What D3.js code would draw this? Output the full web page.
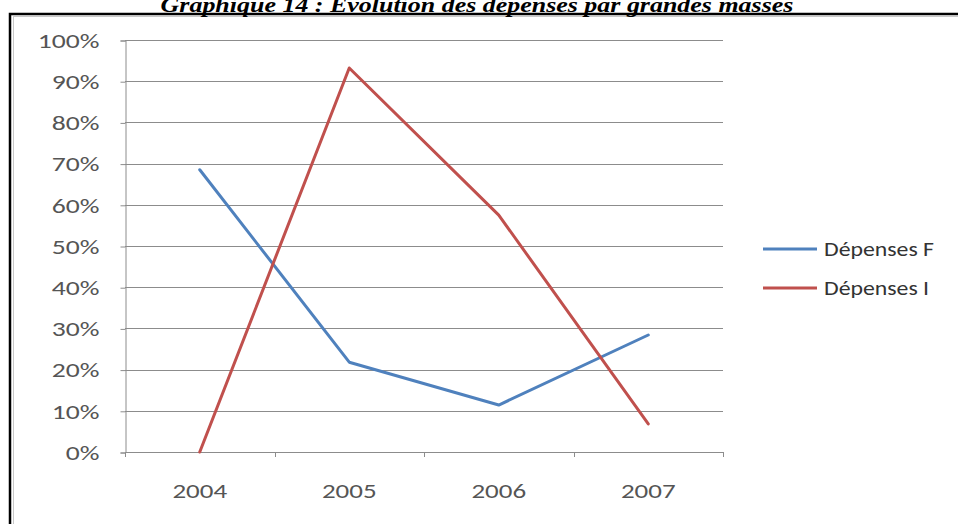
<!DOCTYPE html>
<html>
<head>
<meta charset="utf-8">
<script src="https://cdn.jsdelivr.net/npm/d3@7/dist/d3.min.js"></script>
<style>
  html, body { margin: 0; padding: 0; background: #fff; }
  svg { display: block; }
</style>
</head>
<body>
<svg id="chart" width="958" height="524"></svg>
<script>
// Années et parts des deux grandes masses de dépenses
const years = ["2004", "2005", "2006", "2007"];
const depensesF = [0.685, 0.218, 0.114, 0.284];
const depensesI = [0.0, 0.932, 0.575, 0.068];
const yTicks = [0, 0.1, 0.2, 0.3, 0.4, 0.5, 0.6, 0.7, 0.8, 0.9, 1.0];
const seriesNames = ["Dépenses F", "Dépenses I"];
const seriesColors = ["#4F81BD", "#C0504D"];

const svg = d3.select("#chart");
const W = 958, H = 524;
const fontAxis = "Carlito, 'Open Sans', 'Liberation Sans', sans-serif";

// Élargit un texte autour de son point d'ancrage
function widen(sel, s) {
  sel.each(function () {
    const t = d3.select(this);
    const tx = +t.attr("x") || 0, ty = +t.attr("y") || 0;
    t.attr("x", 0).attr("y", 0)
     .attr("transform", `translate(${tx},${ty}) scale(${s},1)`);
  });
}

// Cadre noir du document
svg.append("path")
  .attr("d", `M10,${H + 5} V14 H${W + 5}`)
  .attr("fill", "none").attr("stroke", "#000").attr("stroke-width", 2.5);

// Bordure de la zone graphique
svg.append("rect")
  .attr("x", 13.5).attr("y", 16.5).attr("width", W + 10).attr("height", H + 10)
  .attr("fill", "#fff").attr("stroke", "#c8c8c8").attr("stroke-width", 1);

// Titre
svg.append("text")
  .attr("x", 477).attr("y", 12)
  .attr("text-anchor", "middle")
  .attr("font-family", "'Liberation Serif', 'Times New Roman', serif")
  .attr("font-weight", "bold").attr("font-style", "italic")
  .attr("font-size", 22)
  .text("Graphique 14 : Evolution des dépenses par grandes masses")
  .call(widen, 1.18);

const plot = { left: 125, right: 723, top: 40, bottom: 452 };

const x = d3.scaleBand().domain(years).range([plot.left, plot.right]);
const y = d3.scaleLinear().domain([0, 1]).range([plot.bottom, plot.top]);

// Quadrillage horizontal
svg.append("g")
  .selectAll("line")
  .data(yTicks.filter(d => d > 0))
  .join("line")
  .attr("x1", plot.left).attr("x2", plot.right)
  .attr("y1", d => Math.round(y(d)) + 0.5).attr("y2", d => Math.round(y(d)) + 0.5)
  .attr("stroke", "#8c8c8c").attr("stroke-width", 1);

// Axe vertical
const yAxis = d3.axisLeft(y).tickValues(yTicks)
  .tickFormat(d3.format(".0%")).tickSize(5).tickPadding(21);
const gy = svg.append("g").attr("transform", `translate(${plot.left + 0.5},0.5)`).call(yAxis);
gy.selectAll("path, line").attr("stroke", "#8c8c8c");
gy.selectAll("text").attr("font-family", fontAxis).attr("font-size", 20).attr("fill", "#555")
  .attr("dy", "0.34em").call(widen, 1.38);

// Axe horizontal
const xTickScale = d3.scalePoint().domain(d3.range(years.length + 1)).range([plot.left, plot.right]);
const gxTicks = svg.append("g");
gxTicks.append("line")
  .attr("x1", plot.left).attr("x2", plot.right)
  .attr("y1", plot.bottom + 0.5).attr("y2", plot.bottom + 0.5)
  .attr("stroke", "#8c8c8c");
gxTicks.selectAll("line.t")
  .data(d3.range(years.length + 1))
  .join("line").attr("class", "t")
  .attr("x1", d => Math.round(xTickScale(d)) + 0.5).attr("x2", d => Math.round(xTickScale(d)) + 0.5)
  .attr("y1", plot.bottom).attr("y2", plot.bottom + 5)
  .attr("stroke", "#8c8c8c");
const xAxis = d3.axisBottom(x).tickSize(0).tickPadding(39);
const gx = svg.append("g").attr("transform", `translate(0,${plot.bottom})`).call(xAxis);
gx.select(".domain").remove();
gx.selectAll("text").attr("font-family", fontAxis).attr("font-size", 20).attr("fill", "#555")
  .attr("dy", "0.34em").call(widen, 1.35);

// Courbes
const line = d3.line()
  .x((d, i) => x(years[i]) + x.bandwidth() / 2)
  .y(d => y(d));

[depensesF, depensesI].forEach((vals, k) => {
  svg.append("path")
    .datum(vals)
    .attr("d", line)
    .attr("fill", "none")
    .attr("stroke", seriesColors[k])
    .attr("stroke-width", 3)
    .attr("stroke-linejoin", "round")
    .attr("stroke-linecap", "round");
});

// Légende
const legend = svg.append("g").attr("transform", "translate(763,249)");
seriesNames.forEach((name, k) => {
  const g = legend.append("g").attr("transform", `translate(0,${k * 39})`);
  g.append("line").attr("x1", 0).attr("x2", 54).attr("y1", 0).attr("y2", 0)
    .attr("stroke", seriesColors[k]).attr("stroke-width", 3);
  g.append("text").attr("x", 61).attr("y", 0).attr("dy", "0.34em")
    .attr("font-family", fontAxis).attr("font-size", 20).attr("fill", "#333")
    .text(name).call(widen, 1.19);
});
</script>
</body>
</html>
